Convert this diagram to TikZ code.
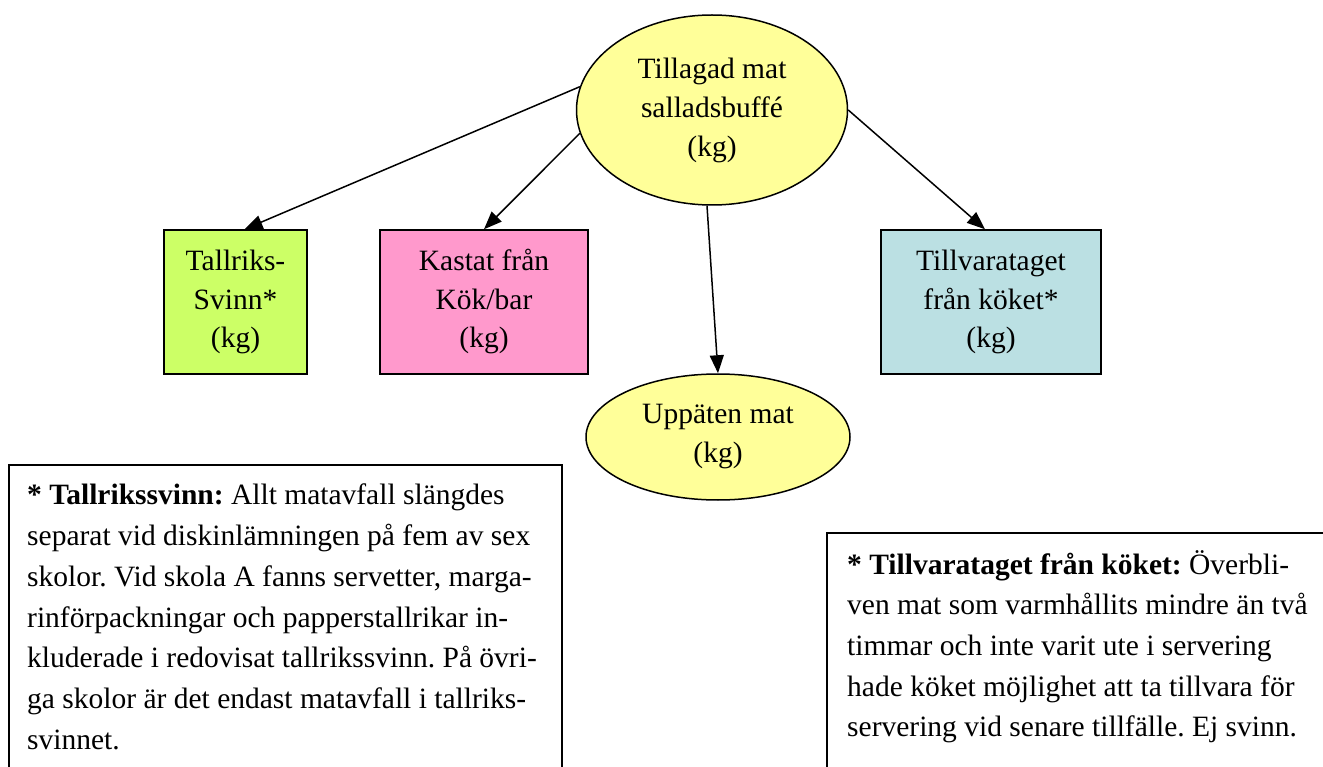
\documentclass[tikz,border=0pt]{standalone}
\usepackage{fontspec}
\setmainfont{Liberation Serif}
\usetikzlibrary{arrows.meta,shapes.geometric}
\definecolor{yel}{RGB}{255,255,153}
\definecolor{grn}{RGB}{204,255,102}
\definecolor{pnk}{RGB}{255,153,204}
\definecolor{blu}{RGB}{187,224,227}
\frenchspacing
\tikzset{
  ell/.style={ellipse,draw,line width=1.5pt,fill=yel,inner sep=0pt,align=center,
    font=\fontsize{29.5}{39}\selectfont},
  box/.style={rectangle,draw,line width=1.5pt,inner sep=0pt,align=center,
    minimum height=144pt,font=\fontsize{29.5}{38.5}\selectfont},
  arr/.style={line width=1.5pt,-{Triangle[length=18pt,width=14pt]}},
  note/.style={inner sep=0pt,align=left,anchor=north west,
    font=\fontsize{29.5}{40.7}\selectfont},
  frame/.style={line width=1.5pt}
}
\begin{document}
\begin{tikzpicture}[x=1pt,y=-1pt]
\useasboundingbox (0,0) rectangle (1323,767);
\fill[white] (0,0) rectangle (1323,767);

\node[ell,minimum width=271pt,minimum height=190pt] (top) at (712,110)
  {Tillagad mat\\salladsbuffé\\(kg)};
\node[box,fill=grn,minimum width=143pt] (green) at (235.5,302)
  {Tallriks-\\Svinn*\\(kg)};
\node[box,fill=pnk,minimum width=208pt] (pink) at (484,302)
  {Kastat från\\Kök/bar\\(kg)};
\node[box,fill=blu,minimum width=220pt] (blue) at (991,302)
  {Tillvarataget\\från köket*\\(kg)};
\node[ell,minimum width=264pt,minimum height=126pt] (bot) at (718,437)
  {Uppäten mat\\(kg)};

\draw[arr] (top.170) -- ([xshift=9pt]green.north);
\draw[arr] (top.190) -- (pink.north);
\draw[arr] (top.267) -- (bot.north);
\draw[arr] (top.east) -- ([xshift=-6pt]blue.north);

\draw[frame] (9,770) -- (9,465) -- (562,465) -- (562,770);
\node[note] (noteL) at (27,484)
  {\textbf{* Tallrikssvinn:} Allt matavfall slängdes\\
   separat vid diskinlämningen på fem av sex\\
   skolor. Vid skola A fanns servetter, marga-\\
   rinförpackningar och papperstallrikar in-\\
   kluderade i redovisat tallrikssvinn. På övri-\\
   ga skolor är det endast matavfall i tallriks-\\
   svinnet.};

\draw[frame] (827,770) -- (827,533) -- (1326,533);
\node[note] (noteR) at (847,550)
  {\textbf{* Tillvarataget från köket:} Överbli-\\
   ven mat som varmhållits mindre än två\\
   timmar och inte varit ute i servering\\
   hade köket möjlighet att ta tillvara för\\
   servering vid senare tillfälle. Ej svinn.};
\end{tikzpicture}
\end{document}
